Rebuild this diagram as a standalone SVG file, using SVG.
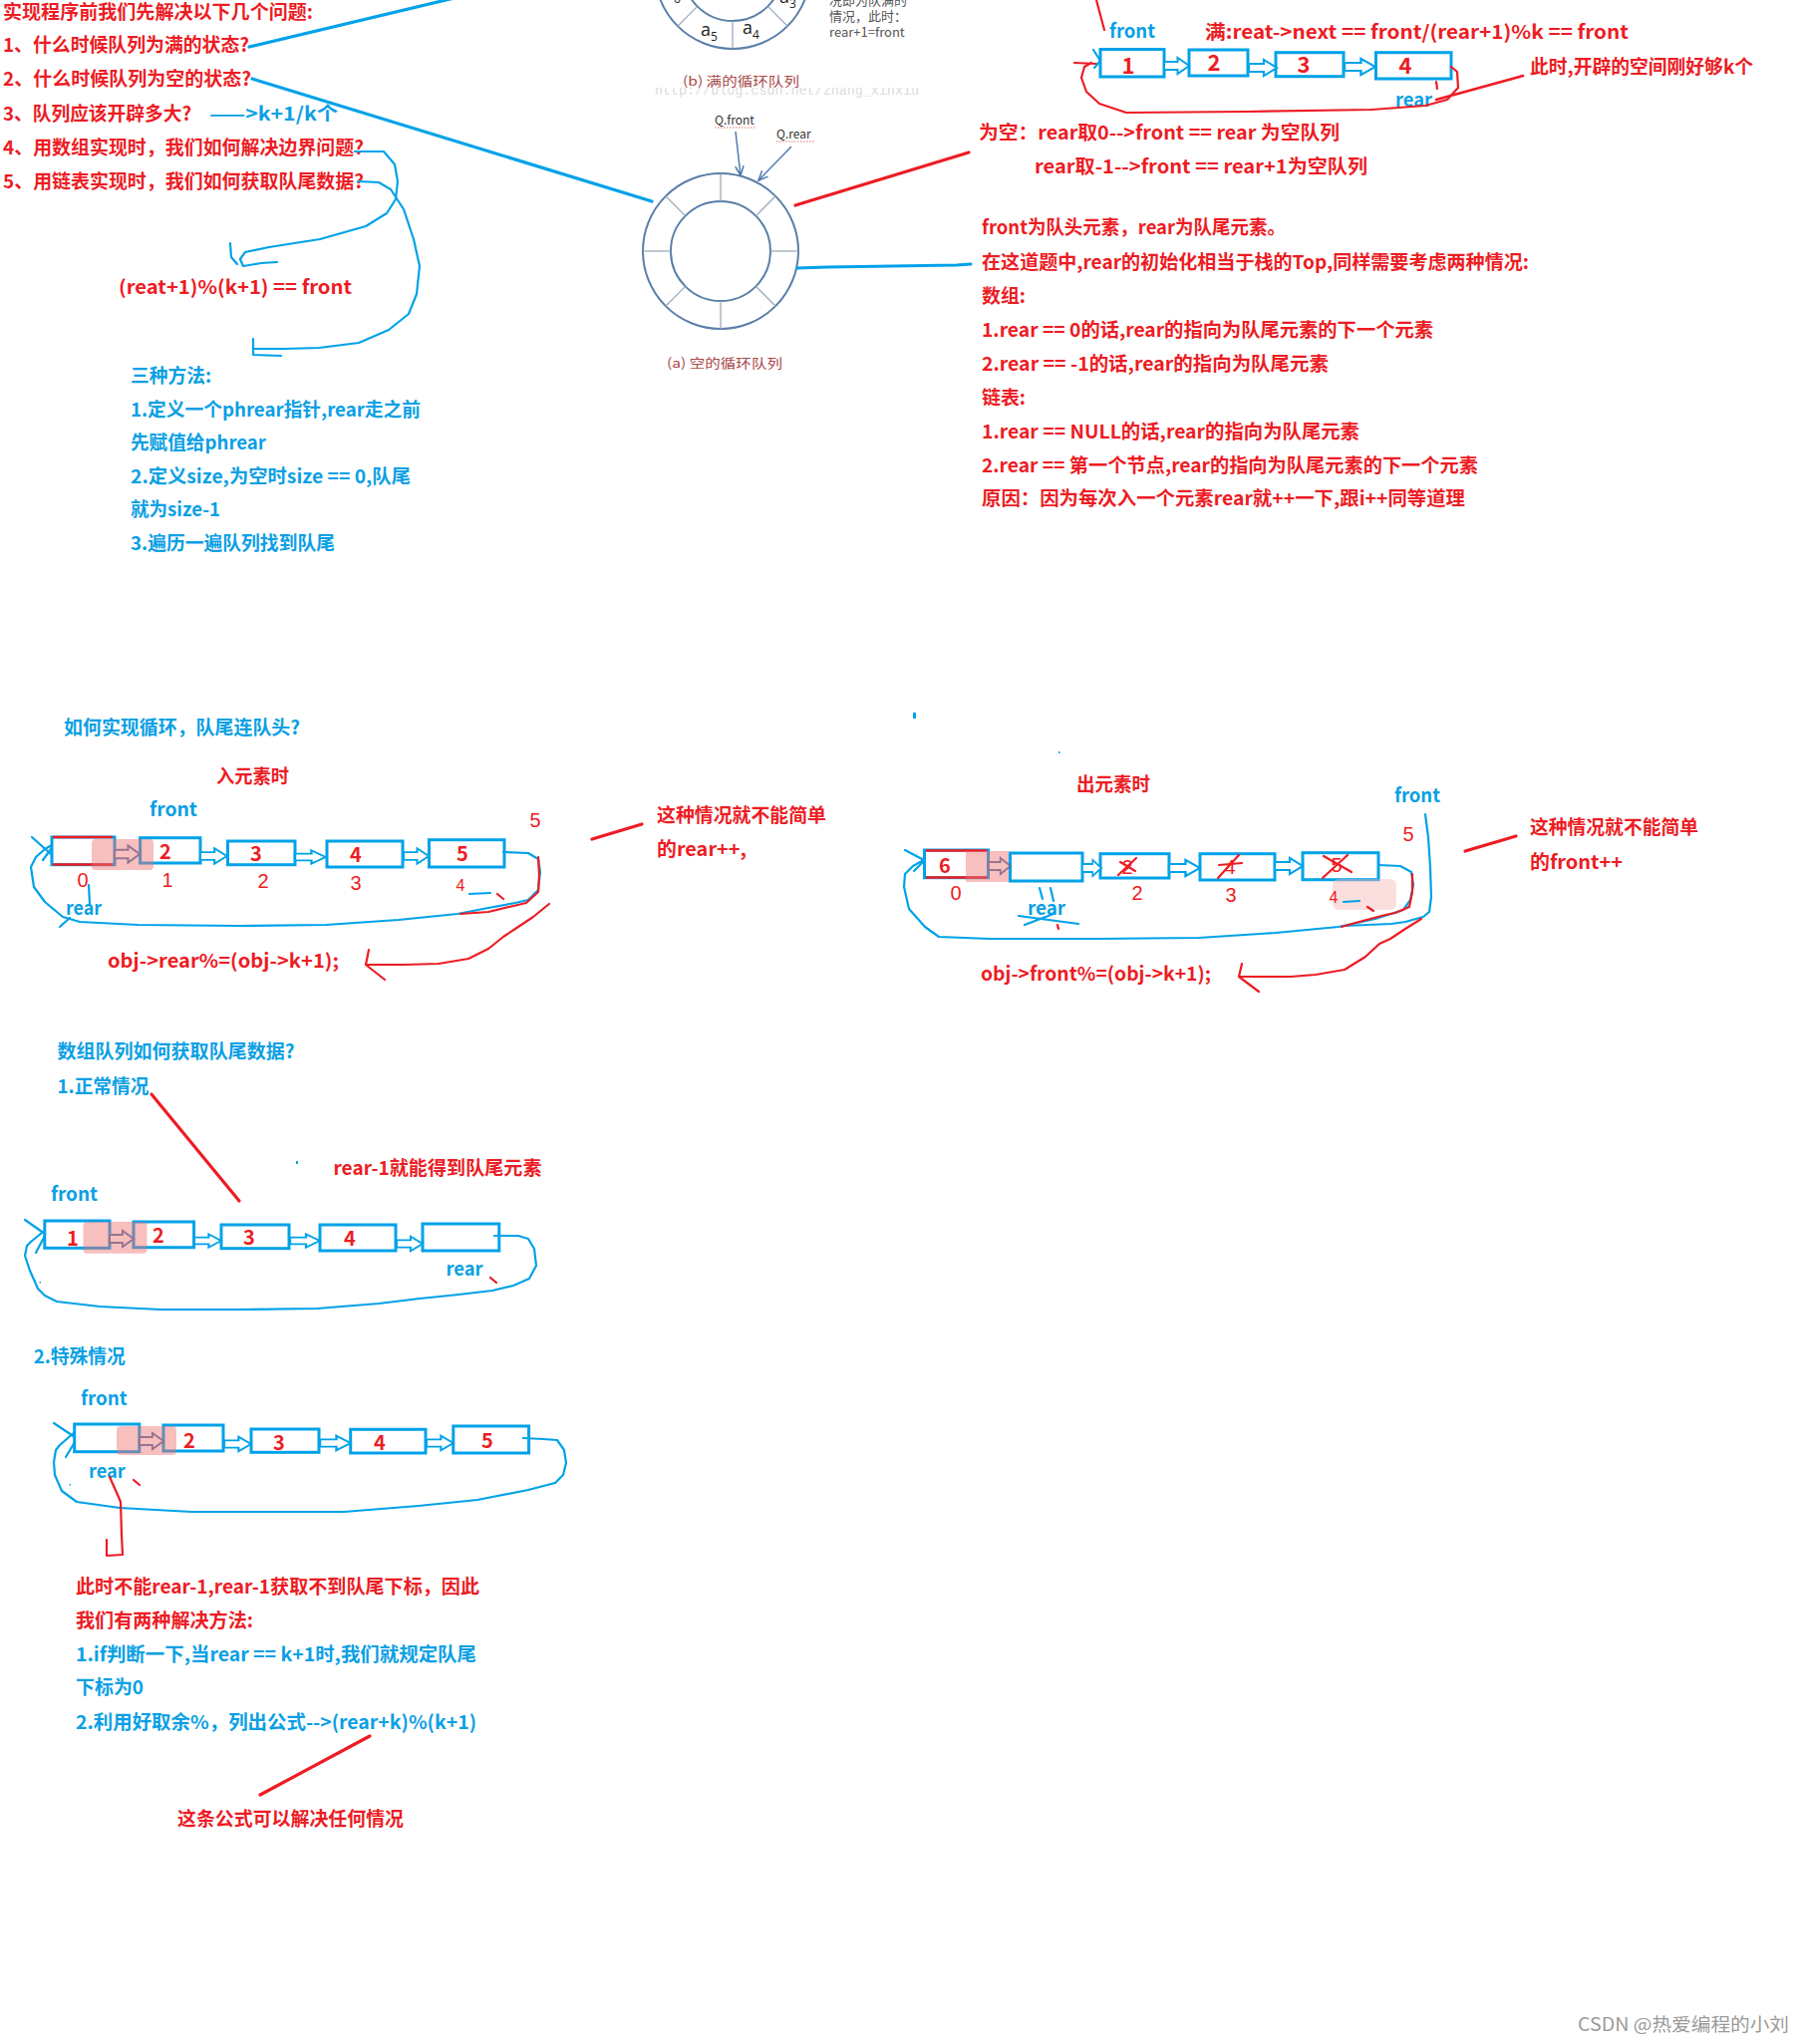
<svg xmlns="http://www.w3.org/2000/svg" xmlns:xlink="http://www.w3.org/1999/xlink" width="1810" height="2051" viewBox="0 0 1810 2051">
<defs>
<style>
text{font-family:"Noto Sans CJK SC","Microsoft YaHei","Liberation Sans",sans-serif;}
.r{fill:#ED1C24;font-size:19px;font-weight:bold;}
.b{fill:#0AA0E4;font-size:19px;font-weight:bold;}
.num{fill:#ED1C24;font-size:20px;font-weight:bold;text-anchor:middle;}
.hw{fill:#ED1C24;font-size:20px;font-family:"Liberation Sans",sans-serif;text-anchor:middle;}
.box{fill:#fff;stroke:#00A2E8;stroke-width:3;}
.blk{fill:#fff;stroke:#00A2E8;stroke-width:2.2;}
.blkg{fill:#fff;stroke:#4B78A8;stroke-width:2.2;}
.hb{fill:none;stroke:#00A2E8;stroke-width:2.2;stroke-linecap:round;stroke-linejoin:round;}
.hr{fill:none;stroke:#ED1C24;stroke-width:2.2;stroke-linecap:round;stroke-linejoin:round;}
.lb{fill:none;stroke:#00A2E8;stroke-width:3.2;stroke-linecap:round;}
.lr{fill:none;stroke:#ED1C24;stroke-width:3.2;stroke-linecap:round;}
.hl{fill:#F07070;fill-opacity:0.45;}
.ring{fill:none;stroke:#5A7FA8;stroke-width:2;}
.spoke{stroke:#9AAABB;stroke-width:1.3;}
.cap{fill:#A84848;font-size:13px;font-weight:normal;}
.gray{fill:#555;font-size:13px;font-weight:normal;}
</style>
<path id="blk" d="M0,-4.5 H15 V-9 L28,0 L15,9 V4.5 H0 Z"/>
<marker id="qa" viewBox="0 0 10 10" refX="9" refY="5" markerWidth="7" markerHeight="7" orient="auto"><path d="M0,1 L9,5 L0,9" fill="none" stroke="#4F7BB0" stroke-width="1.5"/></marker>
<clipPath id="urlclip"><rect x="640" y="88" width="300" height="14"/></clipPath>
</defs>
<rect width="1810" height="2051" fill="#fff"/>

<!-- Question list -->
<g id="questions">
<text class="r" x="3" y="19" textLength="311" lengthAdjust="spacingAndGlyphs">实现程序前我们先解决以下几个问题:</text>
<text class="r" x="3" y="52" textLength="247" lengthAdjust="spacingAndGlyphs">1、什么时候队列为满的状态?</text>
<text class="r" x="3" y="86" textLength="249" lengthAdjust="spacingAndGlyphs">2、什么时候队列为空的状态?</text>
<text class="r" x="3" y="121" textLength="189" lengthAdjust="spacingAndGlyphs">3、队列应该开辟多大?</text>
<text class="b" x="210" y="121" textLength="129" lengthAdjust="spacingAndGlyphs">——&gt;k+1/k个</text>
<text class="r" x="3" y="155" textLength="362" lengthAdjust="spacingAndGlyphs">4、用数组实现时，我们如何解决边界问题?</text>
<text class="r" x="3" y="189" textLength="362" lengthAdjust="spacingAndGlyphs">5、用链表实现时，我们如何获取队尾数据?</text>
<text class="r" x="119" y="295" textLength="234" lengthAdjust="spacingAndGlyphs">(reat+1)%(k+1) == front</text>
</g>

<g id="methods">
<text class="b" x="131" y="384" textLength="81" lengthAdjust="spacingAndGlyphs">三种方法:</text>
<text class="b" x="131" y="418" textLength="291" lengthAdjust="spacingAndGlyphs">1.定义一个phrear指针,rear走之前</text>
<text class="b" x="131" y="451" textLength="136" lengthAdjust="spacingAndGlyphs">先赋值给phrear</text>
<text class="b" x="131" y="485" textLength="281" lengthAdjust="spacingAndGlyphs">2.定义size,为空时size == 0,队尾</text>
<text class="b" x="131" y="518" textLength="90" lengthAdjust="spacingAndGlyphs">就为size-1</text>
<text class="b" x="131" y="552" textLength="205" lengthAdjust="spacingAndGlyphs">3.遍历一遍队列找到队尾</text>
</g>

<!-- Circle (b) full queue, cropped at top -->
<g id="circle-b">
<circle class="ring" cx="735" cy="-29" r="78"/>
<circle class="ring" cx="735" cy="-29" r="50"/>
<line class="spoke" x1="735" y1="21" x2="735" y2="49"/>
<line class="spoke" x1="699.6" y1="6.4" x2="679.8" y2="26.2"/>
<line class="spoke" x1="770.4" y1="6.4" x2="790.2" y2="26.2"/>
<text x="703" y="36" style="font-size:18px;fill:#222;font-family:'Open Sans',sans-serif">a<tspan dy="5" style="font-size:12px">5</tspan></text>
<text x="745" y="34" style="font-size:18px;fill:#222;font-family:'Open Sans',sans-serif">a<tspan dy="5" style="font-size:12px">4</tspan></text>
<text x="782" y="3" style="font-size:18px;fill:#222;font-family:'Open Sans',sans-serif">a<tspan dy="5" style="font-size:12px">3</tspan></text>
<text x="666" y="-2" style="font-size:18px;fill:#222;font-family:'Open Sans',sans-serif">a<tspan dy="5" style="font-size:12px">6</tspan></text>
<text class="gray" x="832" y="5">况即为队满的</text>
<text class="gray" x="832" y="21">情况，此时：</text>
<text class="gray" x="832" y="37">rear+1=front</text>
<text clip-path="url(#urlclip)" x="657" y="95" style="font-size:14px;fill:#dcdcdc;font-family:'Liberation Mono',monospace" textLength="265" lengthAdjust="spacingAndGlyphs">http://blog.csdn.net/zhang_xinxiu</text>
<text class="cap" x="685" y="86" textLength="117" lengthAdjust="spacingAndGlyphs">(b) 满的循环队列</text>
</g>

<!-- Circle (a) empty queue -->
<g id="circle-a">
<circle class="ring" cx="723" cy="252" r="78"/>
<circle class="ring" cx="723" cy="252" r="50"/>
<line class="spoke" x1="773" y1="252" x2="801" y2="252"/>
<line class="spoke" x1="758.4" y1="287.4" x2="778.2" y2="307.2"/>
<line class="spoke" x1="723" y1="302" x2="723" y2="330"/>
<line class="spoke" x1="687.6" y1="287.4" x2="667.8" y2="307.2"/>
<line class="spoke" x1="673" y1="252" x2="645" y2="252"/>
<line class="spoke" x1="687.6" y1="216.6" x2="667.8" y2="196.8"/>
<line class="spoke" x1="723" y1="202" x2="723" y2="174"/>
<line class="spoke" x1="758.4" y1="216.6" x2="778.2" y2="196.8"/>
<text x="717" y="125" style="font-size:12px;fill:#333">Q.front</text>
<line x1="717" y1="128" x2="759" y2="128" stroke="#E07070" stroke-width="1" stroke-dasharray="1.5 1.5"/>
<text x="779" y="139" style="font-size:12px;fill:#333">Q.rear</text>
<line x1="779" y1="142" x2="817" y2="142" stroke="#E07070" stroke-width="1" stroke-dasharray="1.5 1.5"/>
<line x1="738" y1="132" x2="743" y2="176" stroke="#4F7BB0" stroke-width="1.5" marker-end="url(#qa)"/>
<line x1="794" y1="147" x2="761" y2="181" stroke="#4F7BB0" stroke-width="1.5" marker-end="url(#qa)"/>
<text class="cap" x="669" y="369" textLength="116" lengthAdjust="spacingAndGlyphs">(a) 空的循环队列</text>
</g>

<!-- Top right: full list -->
<g id="list-full">
<text class="b" x="1113" y="38" textLength="46" lengthAdjust="spacingAndGlyphs">front</text>
<text class="r" x="1209" y="39" textLength="425" lengthAdjust="spacingAndGlyphs">满:reat-&gt;next == front/(rear+1)%k == front</text>
<rect class="box" x="1104" y="49.5" width="64" height="27.5"/>
<rect class="box" x="1193" y="50" width="59" height="26"/>
<rect class="box" x="1280" y="52.7" width="68" height="24"/>
<rect class="box" x="1380.5" y="52.7" width="75.5" height="26.3"/>
<use href="#blk" class="blk" transform="translate(1168,66) scale(0.9,0.9)"/>
<use href="#blk" class="blk" transform="translate(1253,68) scale(1,0.9)"/>
<use href="#blk" class="blk" transform="translate(1349,67) scale(1.1,0.9)"/>
<text class="num" x="1132" y="74" style="font-size:22px">1</text>
<text class="num" x="1218" y="71" style="font-size:22px">2</text>
<text class="num" x="1308" y="73" style="font-size:22px">3</text>
<text class="num" x="1410" y="74" style="font-size:22px">4</text>
<text class="b" x="1400" y="107" textLength="37" lengthAdjust="spacingAndGlyphs">rear</text>
<text class="r" x="1535" y="74" textLength="224" lengthAdjust="spacingAndGlyphs">此时,开辟的空间刚好够k个</text>
</g>

<!-- Right explanations -->
<g id="empty-notes">
<text class="r" x="982" y="140" textLength="362" lengthAdjust="spacingAndGlyphs">为空：rear取0--&gt;front == rear 为空队列</text>
<text class="r" x="1038" y="174" textLength="334" lengthAdjust="spacingAndGlyphs">rear取-1--&gt;front == rear+1为空队列</text>
<text class="r" x="985" y="235" textLength="305" lengthAdjust="spacingAndGlyphs">front为队头元素，rear为队尾元素。</text>
<text class="r" x="985" y="270" textLength="549" lengthAdjust="spacingAndGlyphs">在这道题中,rear的初始化相当于栈的Top,同样需要考虑两种情况:</text>
<text class="r" x="985" y="304" textLength="44" lengthAdjust="spacingAndGlyphs">数组:</text>
<text class="r" x="985" y="338" textLength="453" lengthAdjust="spacingAndGlyphs">1.rear == 0的话,rear的指向为队尾元素的下一个元素</text>
<text class="r" x="985" y="372" textLength="348" lengthAdjust="spacingAndGlyphs">2.rear == -1的话,rear的指向为队尾元素</text>
<text class="r" x="985" y="406" textLength="44" lengthAdjust="spacingAndGlyphs">链表:</text>
<text class="r" x="985" y="440" textLength="379" lengthAdjust="spacingAndGlyphs">1.rear == NULL的话,rear的指向为队尾元素</text>
<text class="r" x="985" y="474" textLength="498" lengthAdjust="spacingAndGlyphs">2.rear == 第一个节点,rear的指向为队尾元素的下一个元素</text>
<text class="r" x="985" y="507" textLength="485" lengthAdjust="spacingAndGlyphs">原因：因为每次入一个元素rear就++一下,跟i++同等道理</text>
</g>

<!-- Enqueue list -->
<g id="list-enqueue">
<text class="b" x="64" y="737" textLength="237" lengthAdjust="spacingAndGlyphs">如何实现循环，队尾连队头?</text>
<text class="r" x="217" y="786" textLength="73" lengthAdjust="spacingAndGlyphs">入元素时</text>
<text class="b" x="150" y="819" textLength="48" lengthAdjust="spacingAndGlyphs">front</text>
<rect class="box" x="52" y="840" width="63" height="27.7"/>
<rect class="box" x="140.6" y="840.7" width="60.4" height="25.3"/>
<rect class="box" x="228.5" y="844" width="67.5" height="23.7"/>
<rect class="box" x="328" y="844" width="76" height="26"/>
<rect class="box" x="430.5" y="842.7" width="75.5" height="27.3"/>
<line x1="53" y1="840" x2="113" y2="840" stroke="#ED1C24" stroke-width="2.5"/>
<line x1="53" y1="867.5" x2="113" y2="867.5" stroke="#ED1C24" stroke-width="2.5"/>
<use href="#blk" class="blkg" transform="translate(115,857) scale(0.9,0.95)"/>
<use href="#blk" class="blk" transform="translate(201,859) scale(0.95,0.85)"/>
<use href="#blk" class="blk" transform="translate(296,860) scale(1.1,0.75)"/>
<use href="#blk" class="blk" transform="translate(405,859) scale(0.9,0.85)"/>
<rect class="hl" x="92" y="842" width="62" height="31" rx="4"/>
<text class="num" x="166" y="862">2</text>
<text class="num" x="257" y="864">3</text>
<text class="num" x="357" y="865">4</text>
<text class="num" x="464" y="864">5</text>
<text class="hw" x="83" y="890">0</text>
<text class="hw" x="168" y="890">1</text>
<text class="hw" x="264" y="891">2</text>
<text class="hw" x="357" y="893">3</text>
<text class="hw" x="462" y="894" style="font-size:16px">4</text>
<text class="hw" x="537" y="830">5</text>
<text class="b" x="66" y="918" textLength="36" lengthAdjust="spacingAndGlyphs">rear</text>
<text class="r" x="108" y="971" textLength="232" lengthAdjust="spacingAndGlyphs">obj-&gt;rear%=(obj-&gt;k+1);</text>
<text class="r" x="659" y="825" textLength="170" lengthAdjust="spacingAndGlyphs">这种情况就不能简单</text>
<text class="r" x="659" y="859" textLength="90" lengthAdjust="spacingAndGlyphs">的rear++,</text>
</g>

<!-- Dequeue list -->
<g id="list-dequeue">
<rect x="916" y="715" width="3" height="6" fill="#00A2E8"/>
<rect x="1062" y="754" width="1.5" height="2" fill="#00A2E8"/>
<text class="r" x="1080" y="794" textLength="74" lengthAdjust="spacingAndGlyphs">出元素时</text>
<text class="b" x="1399" y="805" textLength="46" lengthAdjust="spacingAndGlyphs">front</text>
<rect class="box" x="927.5" y="853" width="64" height="27.7"/>
<rect class="box" x="1013.5" y="856" width="72.5" height="28"/>
<rect class="box" x="1104" y="856.7" width="69" height="24.3"/>
<rect class="box" x="1204" y="856.7" width="75" height="26.3"/>
<rect class="box" x="1307" y="855.7" width="76" height="27"/>
<line x1="929" y1="853.5" x2="990" y2="853.5" stroke="#ED1C24" stroke-width="2.5"/>
<line x1="929" y1="880.5" x2="990" y2="880.5" stroke="#ED1C24" stroke-width="2.5"/>
<use href="#blk" class="blkg" transform="translate(992,869) scale(0.78,0.9)"/>
<use href="#blk" class="blk" transform="translate(1086,871) scale(0.68,0.9)"/>
<use href="#blk" class="blk" transform="translate(1173,871) scale(1.1,0.9)"/>
<use href="#blk" class="blk" transform="translate(1279,869) scale(1,0.9)"/>
<rect class="hl" x="969" y="854" width="43" height="31"/>
<rect x="1337" y="882" width="64" height="31" rx="6" fill="#F7B8B8" fill-opacity="0.45"/>
<text class="num" x="948" y="876">6</text>
<text class="hw" x="1131" y="877">2</text>
<text class="hw" x="1234" y="877">4</text>
<text class="hw" x="1341" y="875">5</text>
<path class="hr" d="M1122,878 L1140,861 M1124,865 L1139,874"/>
<path class="hr" d="M1222,881 L1243,858 M1223,868 L1246,866"/>
<path class="hr" d="M1327,881 L1352,858 M1328,859 L1356,875"/>
<text class="hw" x="959" y="903">0</text>
<text class="hw" x="1141" y="903">2</text>
<text class="hw" x="1235" y="905">3</text>
<text class="hw" x="1338" y="906" style="font-size:16px">4</text>
<text class="hw" x="1413" y="844">5</text>
<text class="b" x="1031" y="918" textLength="38" lengthAdjust="spacingAndGlyphs">rear</text>
<text class="r" x="984" y="984" textLength="231" lengthAdjust="spacingAndGlyphs">obj-&gt;front%=(obj-&gt;k+1);</text>
<text class="r" x="1535" y="837" textLength="169" lengthAdjust="spacingAndGlyphs">这种情况就不能简单</text>
<text class="r" x="1535" y="872" textLength="93" lengthAdjust="spacingAndGlyphs">的front++</text>
</g>

<!-- Array tail -->
<g id="list-array">
<text class="b" x="57.5" y="1062" textLength="238" lengthAdjust="spacingAndGlyphs">数组队列如何获取队尾数据?</text>
<text class="b" x="57.5" y="1097" textLength="92" lengthAdjust="spacingAndGlyphs">1.正常情况</text>
<rect x="297" y="1165" width="2" height="3" fill="#00A2E8"/>
<text class="r" x="334.5" y="1179" textLength="209" lengthAdjust="spacingAndGlyphs">rear-1就能得到队尾元素</text>
<text class="b" x="51" y="1205" textLength="47" lengthAdjust="spacingAndGlyphs">front</text>
<rect class="box" x="44.8" y="1225" width="65.2" height="27.3"/>
<rect class="box" x="134" y="1226" width="60.6" height="25.7"/>
<rect class="box" x="222" y="1229" width="68" height="23.7"/>
<rect class="box" x="321" y="1229" width="76" height="26"/>
<rect class="box" x="424" y="1228" width="76.8" height="27"/>
<use href="#blk" class="blkg" transform="translate(110,1243) scale(0.86,0.9)"/>
<use href="#blk" class="blk" transform="translate(195,1245) scale(0.96,0.75)"/>
<use href="#blk" class="blk" transform="translate(291,1245) scale(1.07,0.75)"/>
<use href="#blk" class="blk" transform="translate(398,1248) scale(0.93,0.8)"/>
<rect class="hl" x="83.5" y="1226" width="64" height="31.7" rx="4"/>
<text class="num" x="73" y="1250">1</text>
<text class="num" x="159" y="1247">2</text>
<text class="num" x="250" y="1249">3</text>
<text class="num" x="351" y="1250">4</text>
<text class="b" x="447.5" y="1280" textLength="37" lengthAdjust="spacingAndGlyphs">rear</text>
</g>

<!-- Special case -->
<g id="list-special">
<text class="b" x="33.7" y="1368" textLength="92" lengthAdjust="spacingAndGlyphs">2.特殊情况</text>
<text class="b" x="81" y="1410" textLength="46.6" lengthAdjust="spacingAndGlyphs">front</text>
<rect class="box" x="74.7" y="1429" width="65.1" height="27.7"/>
<rect class="box" x="164" y="1430" width="60" height="26"/>
<rect class="box" x="252" y="1434" width="68" height="23.3"/>
<rect class="box" x="351.7" y="1434.3" width="75.3" height="23.7"/>
<rect class="box" x="454.8" y="1431" width="75.8" height="27"/>
<use href="#blk" class="blkg" transform="translate(140,1446) scale(0.86,0.9)"/>
<use href="#blk" class="blk" transform="translate(225,1449) scale(0.96,0.8)"/>
<use href="#blk" class="blk" transform="translate(321,1448) scale(1.1,0.8)"/>
<use href="#blk" class="blk" transform="translate(428,1448) scale(0.96,0.8)"/>
<rect class="hl" x="117" y="1431" width="60" height="29" rx="4"/>
<text class="num" x="190" y="1453">2</text>
<text class="num" x="280" y="1455">3</text>
<text class="num" x="381" y="1455">4</text>
<text class="num" x="489" y="1453">5</text>
<text class="b" x="89" y="1483" textLength="36.7" lengthAdjust="spacingAndGlyphs">rear</text>
</g>

<g id="solutions">
<text class="r" x="76" y="1599" textLength="405" lengthAdjust="spacingAndGlyphs">此时不能rear-1,rear-1获取不到队尾下标，因此</text>
<text class="r" x="76" y="1633" textLength="178" lengthAdjust="spacingAndGlyphs">我们有两种解决方法:</text>
<text class="b" x="76" y="1667" textLength="402" lengthAdjust="spacingAndGlyphs">1.if判断一下,当rear == k+1时,我们就规定队尾</text>
<text class="b" x="76" y="1700" textLength="68" lengthAdjust="spacingAndGlyphs">下标为0</text>
<text class="b" x="76" y="1735" textLength="402" lengthAdjust="spacingAndGlyphs">2.利用好取余%，列出公式--&gt;(rear+k)%(k+1)</text>
<text class="r" x="178" y="1832" textLength="227" lengthAdjust="spacingAndGlyphs">这条公式可以解决任何情况</text>
</g>

<text x="1583" y="2038" textLength="212" lengthAdjust="spacingAndGlyphs" style="font-size:18px;fill:#9a9a9a">CSDN @热爱编程的小刘</text>

<!-- Connectors / hand-drawn strokes -->
<g id="connectors">
<path class="lb" d="M250,47 L460,-3"/>
<path class="lb" d="M253,79 L654,202"/>
<path class="hb" d="M356,152 L385,152 L396,165 L399,182 L397,200 L388,214 L367,227 L321,240 L270,248 L246,253 L241,260 L244,267 L262,264 L278,263"/>
<path class="hb" d="M231,244 L232,258 L238,265"/>
<path class="hb" d="M359,182 L380,183 L392,190 L405,210 L415,240 L421,267 L418,295 L410,315 L390,331 L360,344 L320,349 L285,350 L255,350"/>
<path class="hb" d="M254,340 L254,356 L282,357"/>
<path class="lr" d="M798,206 L972,153"/>
<path class="lb" d="M800,269 L830,268 L960,266 L974,265"/>
<path class="hr" d="M1100,0 L1108,30"/>
<path class="hr" d="M1456,67 L1462,72 L1463,88 L1452,100 L1430,106 L1376,110 L1250,112 L1130,113 L1103,104 L1090,92 L1085,78 L1088,67 L1095,63"/>
<path class="hr" d="M1078,63 L1100,64"/>
<path class="hb" d="M1097,50 L1104,61 L1098,68"/>
<path class="hr" d="M1441,82 L1442,89"/>
<path class="lr" d="M1441,100 L1528,76" style="stroke-width:2.6"/>
<path class="hb" d="M505,855 L530,856 L540,862 L542,875 L540,893 L530,903 L517,906 L490,911 L459,917 L400,923 L327,928 L240,929 L138,928 L80,925 L63,920 L45,905 L34,890 L31,870 L36,860 L45,852 L52,848"/>
<path class="hb" d="M32,840 L51,857 M43,863 L51,852"/>
<path class="hb" d="M60,930 L70,921"/>
<path class="hb" d="M89,888 L90,907"/>
<path class="hb" d="M471,897 L492,896"/>
<path class="hr" d="M499,897 L505,902"/>
<path class="hr" d="M540,860 L541,878 L540,895 L528,906 L511,910 L490,915 L462,917"/>
<path class="hr" d="M551,907 L535,920 L520,930 L505,940 L490,952 L470,962 L440,967 L405,968 L367,968 M367,968 L370,953 M367,968 L386,983"/>
<path class="lr" d="M594,842 L644,827"/>
<path class="hb" d="M1383,868 L1405,869 L1416,875 L1418,888 L1415,903 L1408,913 L1380,922 L1343,930 L1280,936 L1203,941 L1100,942 L993,942 L942,940 L928,930 L912,912 L907,890 L908,877 L916,869 L927,863"/>
<path class="hb" d="M908,853 L927,863 M917,874 L927,864"/>
<path class="hb" d="M1430,817 L1433,840 L1435,870 L1436,900 L1434,915 L1428,920 L1410,925 L1396,927 L1349,929"/>
<path class="hr" d="M1417,877 L1417,895 L1414,910 L1400,916 L1390,918 L1360,926 L1346,930"/>
<path class="hr" d="M1426,922 L1410,932 L1395,942 L1384,947 L1370,960 L1349,973 L1320,978 L1295,980 L1243,980 M1243,980 L1246,967 M1243,980 L1263,995"/>
<path class="hb" d="M1022,919 L1082,927 M1028,928 L1057,917"/>
<path class="hb" d="M1043,891 L1046,902 M1054,891 L1057,904"/>
<path class="hr" d="M1061,928 L1062,932"/>
<path class="hb" d="M1348,905 L1364,904"/>
<path class="hr" d="M1372,910 L1378,914"/>
<path class="lr" d="M1470,854 L1521,839"/>
<path class="lr" d="M152,1098 L240,1205"/>
<path class="hb" d="M496,1240 L520,1240 L530,1243 L536,1253 L538,1270 L531,1283 L515,1290 L494,1295 L460,1299 L421,1303 L380,1308 L318,1313 L240,1314 L161,1314 L100,1311 L57,1306 L45,1300 L38,1293 L30,1275 L25,1260 L27,1250 L31,1246 L42,1237"/>
<path class="hb" d="M25,1224 L45,1238 M36,1257 L45,1240"/>
<rect x="39.5" y="1286" width="1.5" height="1.5" fill="#00A2E8"/>
<path class="hr" d="M492,1282 L498,1287"/>
<path class="hb" d="M525,1443 L545,1444 L559,1445 L566,1455 L568,1468 L565,1480 L557,1488 L530,1495 L479,1505 L420,1511 L345,1517 L270,1517 L192,1517 L120,1513 L77,1507 L62,1496 L55,1480 L54,1467 L56,1455 L60,1450 L75,1437"/>
<path class="hb" d="M54,1428 L75,1442 M66,1462 L75,1447"/>
<rect x="69.5" y="1489" width="1.5" height="1.5" fill="#00A2E8"/>
<path class="hr" d="M134,1485 L140,1490"/>
<path class="hr" d="M110,1482 L118,1500 L121,1507 L122,1540 L123,1560 L107,1561 L107,1545"/>
<path class="lr" d="M371,1742 L261,1801"/>
</g>
</svg>
